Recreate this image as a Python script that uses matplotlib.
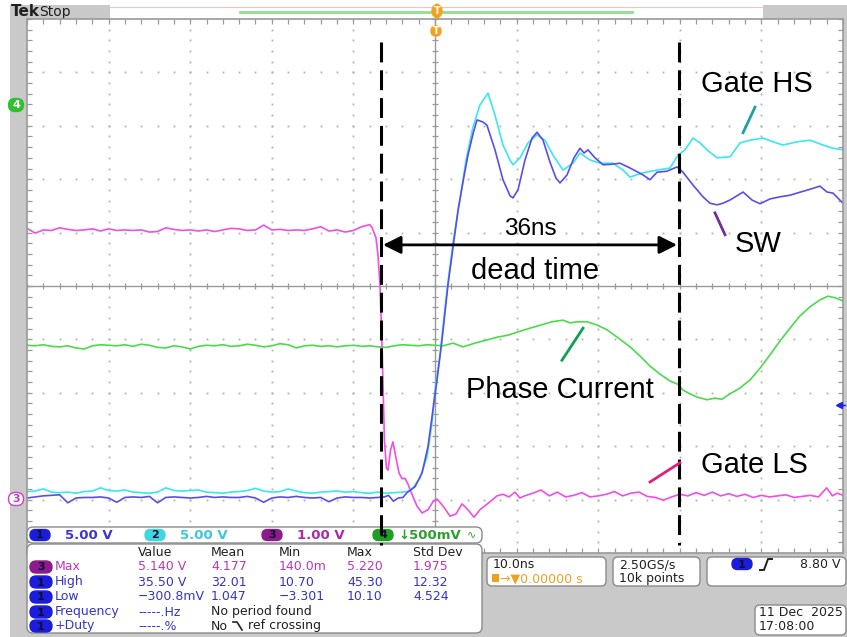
import numpy as np
import matplotlib
matplotlib.use("Agg")
import matplotlib.pyplot as plt
from matplotlib.patches import FancyBboxPatch, Rectangle

W, H = 847, 637

# ---- waveform data: time in ns (10 ns/div), level in divisions from screen centre ----
t_pre = [-50, -49, -48, -47, -46, -45, -44, -43, -42, -41,
         -40, -39, -38, -37, -36, -35, -34, -33, -32, -31,
         -30, -29, -28, -27, -26, -25, -24, -23, -22, -21,
         -20, -19, -18, -17, -16, -15, -14, -13, -12, -11,
         -10, -9, -8]

# Gate LS (ch3, magenta)
ls_pre = [1.08, 0.99, 1.05, 1.04, 1.09, 1.06, 1.04, 1.05, 1.07, 1.03,
          1.07, 1.04, 1.05, 1.04, 1.05, 1.01, 1.02, 1.09, 1.06, 1.04,
          1.05, 1.03, 1.05, 1.02, 1.05, 1.08, 1.07, 1.04, 1.05, 1.14,
          1.05, 1.06, 1.04, 1.05, 1.04, 1.07, 1.11, 1.03, 1.05, 1.01,
          1.04, 1.11, 1.15]
ls_t = [-7.7, -7.23, -6.99, -6.74, -6.55, -6.35, -6.2, -5.95, -5.75, -5.45,
        -5.15, -4.78, -4.41, -4.04, -3.68, -3.31, -2.82, -2.21, -1.59, -0.86,
        -0.25, 0.25, 0.98, 1.84, 2.57, 3.31, 4.04, 4.78, 5.51, 6.25,
        6.99, 7.6, 8.33, 9.07, 9.8, 10.4,
        11, 12, 13, 14, 15, 16, 17, 18, 19, 20, 21, 22, 23, 24, 25, 26, 27, 28, 29,
        30, 31, 32, 33, 34, 35, 36, 37, 38, 39, 40, 41, 42, 43, 44, 45, 46, 47, 48,
        48.7, 49.3, 50]
ls_v = [1.09, 0.90, 0.58, 0.02, -0.82, -1.95, -2.88, -3.41, -3.45, -3.07,
        -2.92, -3.22, -3.50, -3.61, -3.60, -3.71, -3.90, -4.12, -4.25, -4.19,
        -4.04, -3.99, -4.12, -4.31, -4.27, -4.08, -4.19, -4.33, -4.19, -4.10,
        -4.01, -3.93, -3.90, -3.95, -3.86, -3.97,
        -3.93, -3.88, -3.82, -3.93, -3.86, -3.95, -3.92, -3.87, -3.95, -3.93, -3.90,
        -3.85, -3.93, -3.88, -3.86, -3.94, -3.96, -4.01, -3.95,
        -3.90, -3.93, -3.87, -3.92, -3.86, -3.93, -3.89, -3.94, -3.90, -3.96, -3.92,
        -3.95, -3.93, -3.91, -3.96, -3.94, -3.92, -3.95, -3.78,
        -3.93, -3.88, -3.92]

# Gate HS (ch2, cyan)
hs_pre = [-3.85, -3.84, -3.80, -3.86, -3.87, -3.86, -3.88, -3.85, -3.84, -3.78,
          -3.83, -3.84, -3.82, -3.86, -3.87, -3.88, -3.86, -3.78, -3.83, -3.84,
          -3.83, -3.82, -3.86, -3.87, -3.88, -3.86, -3.85, -3.83, -3.79, -3.84,
          -3.86, -3.85, -3.80, -3.84, -3.87, -3.88, -3.86, -3.85, -3.84, -3.86,
          -3.85, -3.87, -3.88]
hs_t = [-7, -6, -5, -4, -3.43, -2.70, -1.84, -0.98, -0.37, 0.0,
        0.61, 1.47, 2.21, 3.06, 3.80, 4.66, 5.51, 6.50, 7.35, 8.33,
        9.19, 9.56, 10.42, 11.40, 12.50, 13.48, 14.46, 15.69, 16.91, 17.77,
        19.0, 20.22, 21.81, 23.04, 23.90, 25.49, 27.21, 28.80, 29.78, 30.64,
        31.62, 32.48, 33.33, 34.56, 36.15, 37.38, 38.60, 40.20, 41.42, 42.65,
        44.36, 45.96, 47.55, 48.77, 50]
hs_v = [-3.86, -3.88, -3.87, -3.86, -3.85, -3.78, -3.60, -3.20, -2.57, -1.95,
        -1.29, -0.07, 0.81, 1.61, 2.36, 2.98, 3.39, 3.61, 3.20, 2.64,
        2.36, 2.27, 2.40, 2.68, 2.83, 2.73, 2.45, 2.17, 2.30, 2.49,
        2.36, 2.30, 2.30, 2.17, 2.04, 2.12, 2.17, 2.21, 2.45, 2.55,
        2.77, 2.68, 2.55, 2.40, 2.42, 2.68, 2.73, 2.77, 2.70, 2.64,
        2.70, 2.73, 2.64, 2.58, 2.55]

# SW (ch1, blue)
sw_pre = [-3.97, -3.95, -3.93, -3.92, -3.91, -4.06, -3.97, -3.96, -3.96, -3.95,
          -3.97, -4.05, -3.96, -3.95, -3.96, -3.94, -4.06, -3.96, -3.95, -3.96,
          -3.97, -3.96, -3.94, -3.96, -3.95, -3.96, -3.96, -3.94, -3.97, -4.05,
          -3.97, -3.95, -3.96, -3.94, -3.96, -3.97, -3.96, -4.04, -3.97, -3.95,
          -3.96, -3.96, -3.97]
sw_t = [-7, -6.2, -5.7, -5.1, -4.5, -3.92, -3.43, -2.45, -1.59, -0.86,
        -0.25, 0.25, 0.86, 1.59, 2.33, 2.82, 3.43, 4.04, 4.66, 5.15,
        5.88, 6.37, 7.35, 8.33, 9.19, 9.56, 10.17, 11.03, 11.89, 12.50,
        13.24, 14.09, 14.83, 15.32, 16.18, 17.03, 17.77, 18.26, 18.75, 19.61,
        20.59, 21.69, 22.67, 23.90, 25.49, 26.35, 27.21, 28.43, 29.66, 30.39,
        31.62, 32.84, 33.70, 34.56, 35.29, 36.15, 37.01, 37.75, 38.85, 39.83,
        41.05, 42.28, 43.50, 44.36, 45.71, 47.18, 48.04, 48.77, 50]
sw_v = [-3.96, -3.95, -3.92, -4.03, -3.97, -3.96, -3.87, -3.76, -3.50, -3.01,
        -2.32, -1.76, -1.01, 0.02, 0.86, 1.42, 1.95, 2.45, 2.85, 3.11,
        3.07, 3.01, 2.55, 1.99, 1.69, 1.65, 1.80, 2.36, 2.77, 2.88,
        2.73, 2.32, 2.02, 1.93, 2.08, 2.40, 2.58, 2.49, 2.55, 2.40,
        2.27, 2.28, 2.30, 2.21, 2.08, 1.99, 2.13, 2.15, 2.23, 2.13,
        1.89, 1.67, 1.55, 1.52, 1.55, 1.61, 1.69, 1.76, 1.61, 1.54,
        1.63, 1.67, 1.70, 1.74, 1.80, 1.87, 1.76, 1.74, 1.55]

# Phase current (ch4, green)
ph_pre = [-1.11, -1.12, -1.10, -1.13, -1.14, -1.12, -1.16, -1.18, -1.12, -1.10,
          -1.11, -1.12, -1.10, -1.13, -1.09, -1.11, -1.15, -1.16, -1.12, -1.14,
          -1.18, -1.13, -1.11, -1.12, -1.10, -1.13, -1.12, -1.09, -1.11, -1.14,
          -1.12, -1.08, -1.10, -1.16, -1.12, -1.11, -1.13, -1.12, -1.14, -1.12,
          -1.11, -1.13, -1.12]
ph_t = [-7, -6, -5, -4, -3, -2, -1, 0, 1, 2.21,
        3.43, 4.90, 6.37, 7.60, 8.95, 10.17, 11.64, 12.99, 14.34, 15.69,
        16.54, 17.52, 18.63, 19.85, 21.08, 22.43, 23.90, 25.12, 26.35, 27.57,
        28.80, 29.78, 30.39, 31.25, 32.11, 33.33, 34.31, 35.17, 36.15, 37.38,
        38.60, 39.83, 41.05, 42.28, 43.50, 44.73, 45.96, 47.18, 48.16, 49.02, 50]
ph_v = [-1.14, -1.15, -1.12, -1.10, -1.11, -1.12, -1.10, -1.11, -1.12, -1.07,
        -1.14, -1.07, -1.01, -0.96, -0.92, -0.86, -0.79, -0.73, -0.67, -0.64,
        -0.69, -0.67, -0.67, -0.73, -0.82, -0.97, -1.14, -1.31, -1.50, -1.65,
        -1.78, -1.84, -1.95, -2.02, -2.08, -2.13, -2.10, -2.12, -2.02, -1.91,
        -1.76, -1.54, -1.29, -1.03, -0.79, -0.56, -0.39, -0.26, -0.19, -0.22, -0.28]

# cursors (ns) and annotation text
cursor_a = -6.62
cursor_b = 29.90
dead_label = "36ns"

# channel readouts
ch_nums = ["1", "2", "3", "4"]
ch_scales = ["5.00 V", "5.00 V", "1.00 V", "\u2193500mV"]

# measurement table
meas_ch = ["3", "1", "1", "1", "1"]
meas_name = ["Max", "High", "Low", "Frequency", "+Duty"]
meas_value = ["5.140 V", "35.50 V", "\u2212300.8mV", "-----.Hz", "-----.%"]
meas_mean = ["4.177", "32.01", "1.047", "No period found", "No"]
meas_min = ["140.0m", "10.70", "\u22123.301", "", ""]
meas_max = ["5.220", "45.30", "10.10", "", ""]
meas_std = ["1.975", "12.32", "4.524", "", ""]

C_LS = "#f04ee8"
C_HS = "#3ae6f0"
C_SW = "#5a4fe2"
C_PH = "#4cda4c"

fig = plt.figure(figsize=(W / 100, H / 100), dpi=100)
fig.patch.set_facecolor("white")

def px_axes(z):
    a = fig.add_axes([0, 0, 1, 1], zorder=z)
    a.set_xlim(0, W)
    a.set_ylim(H, 0)
    a.axis("off")
    a.patch.set_visible(False)
    return a

def rbox(a, x0, y0, x1, y1, fc="white", ec="#8a8a8a", r=5, lw=1.0):
    a.add_patch(FancyBboxPatch((x0, y0), x1 - x0, y1 - y0,
                               boxstyle="round,pad=0,rounding_size=%g" % r,
                               fc=fc, ec=ec, lw=lw))

def pill(a, xc, yc, label, fc, tc, w=20, h=11, ec=None, size=8):
    rbox(a, xc - w / 2, yc - h / 2, xc + w / 2, yc + h / 2, fc=fc,
         ec=ec if ec else fc, r=h / 2)
    a.text(xc, yc + 0.5, label, color=tc, fontsize=size, fontweight="bold",
           ha="center", va="center", family="DejaVu Sans")

# ---- background / frame ----
ax_bg = px_axes(-1)
ax_bg.add_patch(Rectangle((10, 5), W - 10, H - 5, fc="#c9c9c9", ec="none"))
ax_bg.add_patch(Rectangle((110, 5), 653, 14, fc="white", ec="none"))
ax_bg.plot([110, 763], [6.5, 6.5], color="#f0c4c4", lw=0.8)
ax_bg.plot([240, 632], [12, 12], color="#8ee08e", lw=2)
ax_bg.text(11, 12, "Tek", fontsize=11, fontweight="bold", color="#202020",
           va="center", family="DejaVu Sans")
ax_bg.text(39, 12, "Stop", fontsize=10, color="#202020", va="center",
           family="DejaVu Sans")

# ---- graticule ----
gl, gr, gt, gb = 27, 843, 19, 553
rect = [gl / W, 1 - gb / H, (gr - gl) / W, (gb - gt) / H]
ax = fig.add_axes(rect, zorder=0)
ax.set_facecolor("white")
ax.set_xlim(-50, 50)
ax.set_ylim(-5, 5)
grid_c = "#b2b2b2"
frame_c = "#9a9a9a"
for gx in [-40, -30, -20, -10, 10, 20, 30, 40]:
    yy = np.arange(-5, 5.01, 0.2)
    ax.plot(np.full(len(yy), gx), yy, ls="none", marker="s", ms=1.3,
            mec="none", mfc=grid_c)
for gy in [-4, -3, -2, -1, 1, 2, 3, 4]:
    xx = np.arange(-50, 50.1, 2)
    ax.plot(xx, np.full(len(xx), gy), ls="none", marker="s", ms=1.3,
            mec="none", mfc=grid_c)
ax.axhline(0, color=frame_c, lw=1)
ax.axvline(0, color=frame_c, lw=1)
ax.vlines(np.arange(-50, 50.1, 2), -0.06, 0.06, color=frame_c, lw=0.9)
ax.hlines(np.arange(-5, 5.01, 0.2), -0.4, 0.4, color=frame_c, lw=0.9)
ax.set_xticks(np.arange(-50, 50.1, 2))
ax.set_yticks(np.arange(-5, 5.01, 0.2))
ax.tick_params(direction="in", length=3.5, width=0.9, color=frame_c,
               top=True, right=True, labelbottom=False, labelleft=False)
for s in ax.spines.values():
    s.set_color(frame_c)
    s.set_linewidth(1.2)

# ---- traces ----
ax.plot(t_pre + ph_t, ph_pre + ph_v, color=C_PH, lw=1.2)
ax.plot(t_pre + ls_t, ls_pre + ls_v, color=C_LS, lw=1.2)
ax.plot(t_pre + hs_t, hs_pre + hs_v, color=C_HS, lw=1.2)
ax.plot(t_pre + sw_t, sw_pre + sw_v, color=C_SW, lw=1.2)

# ---- readout panels ----
ax_px = px_axes(2)
ui = "DejaVu Sans"
rbox(ax_px, 27, 527, 482, 543, r=6)
ch_fill = ["#1c1cdc", "#3ed6e2", "#8c1c8c", "#1f9f1f"]
ch_txt = ["#3a36d0", "#3cc8dc", "#a82ca8", "#2ea02e"]
ch_pill_x = [40, 155, 272, 383]
for i in range(4):
    pill(ax_px, ch_pill_x[i], 535, ch_nums[i], ch_fill[i], "#101030")
    ax_px.text(ch_pill_x[i] + (25 if i < 3 else 15), 535.5, ch_scales[i],
               color=ch_txt[i], fontsize=9.5, fontweight="bold", va="center",
               family=ui)
ax_px.text(472, 534, "\u223f", color="#2ea02e", fontsize=8, va="center",
           ha="center", family=ui)

rbox(ax_px, 27, 544, 482, 633, r=6)
col_x = [138, 211, 279, 347, 413]
for x, h in zip(col_x, ["Value", "Mean", "Min", "Max", "Std Dev"]):
    ax_px.text(x, 552, h, fontsize=9, color="#202020", va="center", family=ui)
row_y = [567, 582, 597, 612, 626]
for i in range(5):
    c = "#b838b8" if meas_ch[i] == "3" else "#3434c8"
    pf = "#8c1c8c" if meas_ch[i] == "3" else "#1c1cdc"
    pill(ax_px, 41, row_y[i], meas_ch[i], pf, "#101030", w=22, h=12)
    ax_px.text(55, row_y[i], meas_name[i], fontsize=9, color=c, va="center",
               family=ui)
    ax_px.text(col_x[0], row_y[i], meas_value[i], fontsize=9, color=c,
               va="center", family=ui)
    mc = c if i < 3 else "#202020"
    ax_px.text(col_x[1], row_y[i], meas_mean[i], fontsize=9, color=mc,
               va="center", family=ui)
    ax_px.text(col_x[2], row_y[i], meas_min[i], fontsize=9, color=c,
               va="center", family=ui)
    ax_px.text(col_x[3], row_y[i], meas_max[i], fontsize=9, color=c,
               va="center", family=ui)
    ax_px.text(col_x[4], row_y[i], meas_std[i], fontsize=9, color=c,
               va="center", family=ui)
ax_px.plot([233, 237, 242], [622, 622, 630], color="#202020", lw=1.2)
ax_px.text(248, 626, "ref crossing", fontsize=9, color="#202020",
           va="center", family=ui)

# horizontal / acquisition / trigger boxes
rbox(ax_px, 487, 557, 606, 586)
ax_px.text(493, 564.5, "10.0ns", fontsize=9, color="#202020", va="center",
           family=ui)
ax_px.add_patch(Rectangle((492, 574), 7, 8, fc="#f0a020", ec="none"))
ax_px.text(500, 578.5, "\u2192\u25bc0.00000 s", fontsize=9, color="#f0a020",
           va="center", family=ui)
rbox(ax_px, 613, 557, 700, 586)
ax_px.text(619, 564.5, "2.50GS/s", fontsize=9, color="#202020", va="center",
           family=ui)
ax_px.text(619, 578.5, "10k points", fontsize=9, color="#202020",
           va="center", family=ui)
rbox(ax_px, 707, 557, 846, 586)
pill(ax_px, 742, 564, "1", "#1c1cdc", "#101030")
ax_px.plot([760, 764, 768, 772], [570, 570, 559, 559], color="#202020", lw=1.4)
ax_px.text(841, 564.5, "8.80 V", fontsize=9, color="#202020", va="center",
           ha="right", family=ui)
rbox(ax_px, 755, 605, 846, 635)
ax_px.text(759, 612.5, "11 Dec  2025", fontsize=9, color="#202020",
           va="center", family=ui)
ax_px.text(759, 626.5, "17:08:00", fontsize=9, color="#202020", va="center",
           family=ui)

# screen markers
pill(ax_px, 437, 11, "T", "#f2a21e", "white", w=10, h=13, size=7)
pill(ax_px, 436, 31, "T", "#f2a21e", "white", w=10, h=10, size=7)
pill(ax_px, 16, 105, "4", "#2fbf2f", "white", w=15, h=13)
pill(ax_px, 16, 499, "3", "white", "#c040c0", w=15, h=13, ec="#d040c8")
ax_px.plot([839], [405], marker="<", ms=5, color="#2020e0")
ax_px.plot([840, 845], [405, 405], color="#2020e0", lw=1)

# ---- annotations (same scale as the graticule) ----
ax_an = fig.add_axes(rect, zorder=3)
ax_an.set_xlim(-50, 50)
ax_an.set_ylim(-5, 5)
ax_an.axis("off")
ax_an.patch.set_visible(False)
for cx in [cursor_a, cursor_b]:
    ax_an.plot([cx, cx], [4.57, -4.85], color="black", lw=2.2,
               dashes=(6.5, 2.6), clip_on=False)
ax_an.annotate("", xy=(29.66, 0.77), xytext=(-6.37, 0.77),
               arrowprops=dict(arrowstyle="<|-|>,head_length=0.6,head_width=0.3",
                               mutation_scale=18, lw=2, color="black",
                               shrinkA=0, shrinkB=0))
lab = dict(family="Liberation Sans", color="black", ha="center", va="baseline")
ax_an.text(11.64, 0.96, dead_label, fontsize=17.5, **lab)
ax_an.text(12.25, 0.13, "dead time", fontsize=21, **lab)
ax_an.text(39.46, 3.63, "Gate HS", fontsize=21, **lab)
ax_an.text(39.58, 0.64, "SW", fontsize=21, **lab)
ax_an.text(15.32, -2.10, "Phase Current", fontsize=21, **lab)
ax_an.text(39.1, -3.50, "Gate LS", fontsize=21, **lab)
ax_an.plot([37.75, 39.22], [2.87, 3.35], color="#1f9fa8", lw=2)
ax_an.plot([34.31, 35.54], [1.37, 0.96], color="#7030a0", lw=2)
ax_an.plot([15.56, 18.14], [-1.39, -0.79], color="#12a050", lw=2)
ax_an.plot([26.35, 30.02], [-3.67, -3.31], color="#e0207f", lw=2)

fig.savefig("out.png", dpi=100)
